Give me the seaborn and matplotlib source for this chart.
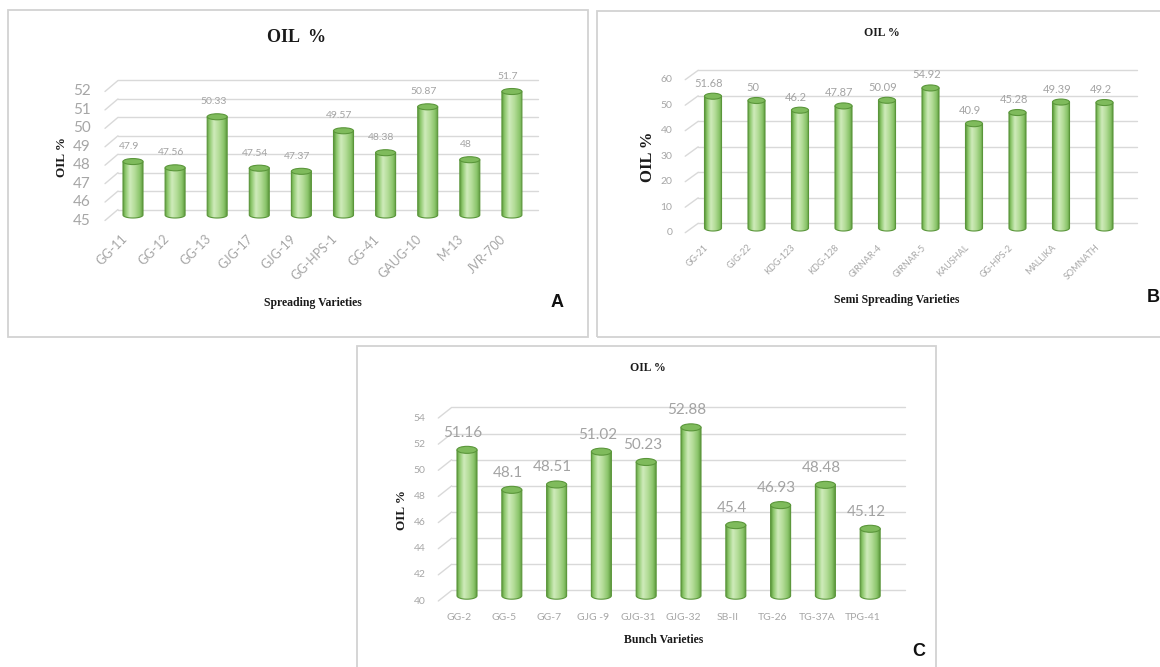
import numpy as np
import pandas as pd
import matplotlib
matplotlib.use("Agg")
import matplotlib.pyplot as plt
import seaborn as sns
from matplotlib.transforms import offset_copy
from matplotlib.patches import Ellipse, Rectangle, PathPatch
from matplotlib.path import Path
from matplotlib.colors import LinearSegmentedColormap

# ---------------- data ----------------
spreading_varieties = ["GG-11", "GG-12", "GG-13", "GJG-17", "GJG-19",
                       "GG-HPS-1", "GG-41", "GAUG-10", "M-13", "JVR-700"]
spreading_oil = [47.9, 47.56, 50.33, 47.54, 47.37, 49.57, 48.38, 50.87, 48, 51.7]
spreading_yticks = [45, 46, 47, 48, 49, 50, 51, 52]

semi_varieties = ["GG-21", "GJG-22", "KDG-123", "KDG-128", "GIRNAR-4",
                  "GIRNAR-5", "KAUSHAL", "GG-HPS-2", "MALLIKA", "SOMNATH"]
semi_oil = [51.68, 50, 46.2, 47.87, 50.09, 54.92, 40.9, 45.28, 49.39, 49.2]
semi_yticks = [0, 10, 20, 30, 40, 50, 60]

bunch_varieties = ["GG-2", "GG-5", "GG-7", "GJG -9", "GJG-31",
                   "GJG-32", "SB-II", "TG-26", "TG-37A", "TPG-41"]
bunch_oil = [51.16, 48.1, 48.51, 51.02, 50.23, 52.88, 45.4, 46.93, 48.48, 45.12]
bunch_yticks = [40, 42, 44, 46, 48, 50, 52, 54]

titles = ["OIL  %", "OIL %", "OIL %"]
ylabel_text = "OIL %"
xlabels = ["Spreading Varieties", "Semi Spreading Varieties", "Bunch Varieties"]
panel_letters = ["A", "B", "C"]

# ---------------- style ----------------
sns.set_theme(style="white")
plt.rcParams['font.family'] = ['Lato', 'DejaVu Sans']

W, H = 1160, 667
fig = plt.figure(figsize=(W / 100, H / 100), dpi=100)
fig.patch.set_facecolor('white')

GRID = '#d9d9d9'
TICK_C = '#a6a6a6'
VAL_C = '#a3a3a3'
EDGE = '#5a963a'
CAP = '#7fbb5c'
SERIF = ['Liberation Serif', 'DejaVu Serif']
SANS = ['Liberation Sans', 'DejaVu Sans']

cyl_cmap = LinearSegmentedColormap.from_list(
    'cyl', [(0.0, '#5f9b3f'), (0.12, '#8cc76b'), (0.35, '#cfebbb'),
            (0.6, '#b3dc97'), (0.85, '#8ac46a'), (1.0, '#5f9b3f')])
grad = np.linspace(0, 1, 256).reshape(1, -1)


def fx(x):
    return x / W


def fy(y):
    return 1 - y / H


# panel frames
for (l, t, r, b) in [(8, 10, 588, 337), (597, 11, 1168, 337), (357, 346, 936, 675)]:
    fig.add_artist(Rectangle((fx(l), fy(b)), (r - l) / W, (b - t) / H,
                             transform=fig.transFigure, fill=False,
                             edgecolor='#d2d2d2', lw=1.3))


def panel(names, vals, yticks, c0, step, base, ppu, ylim, xl_px, xr_px,
          half, bar_px, cap_px, ytick_fs, ytick_pad, val_fs, val_off,
          xt_fs, xt_rot, xt_off):
    y0, y1 = ylim
    top_px = base - (y1 - y0) * ppu
    ax = fig.add_axes([xl_px / W, 1 - base / H, (xr_px - xl_px) / W, (base - top_px) / H])
    df = pd.DataFrame({'variety': names, 'oil': vals})
    sns.barplot(data=df, x='variety', y='oil', ax=ax, color='#a9d68c',
                saturation=1, width=bar_px / step, edgecolor='none', errorbar=None)
    xlim = ((xl_px - c0) / step, (xr_px - c0) / step)
    hx, hy = half
    hh = cap_px / 2 / ppu

    ytr = ax.get_yaxis_transform()
    back = offset_copy(ytr, fig=fig, x=hx, y=hy, units='dots')
    front = offset_copy(ytr, fig=fig, x=-hx, y=-hy, units='dots')
    lab_tr = offset_copy(ytr, fig=fig, x=-hx - ytick_pad, y=-hy, units='dots')
    for v in yticks:
        ax.plot([0, 1], [v, v], transform=back, color=GRID, lw=1.0, zorder=1, clip_on=False)
        ax.annotate('', xy=(0, v), xycoords=back, xytext=(0, v), textcoords=front,
                    arrowprops=dict(arrowstyle='-', color=GRID, lw=1.0, shrinkA=0, shrinkB=0),
                    annotation_clip=False)
        ax.text(0, v, f'{v}', transform=lab_tr, ha='right', va='center',
                fontsize=ytick_fs, color=TICK_C)

    xt_tr = offset_copy(ax.transData, fig=fig, x=xt_off[0], y=xt_off[1], units='dots')
    for i, p in enumerate(list(ax.patches)):
        x0 = p.get_x()
        w = p.get_width()
        top = p.get_y() + p.get_height()
        xc = x0 + w / 2
        p.set_visible(False)
        t = np.linspace(np.pi, 2 * np.pi, 40)
        arc_x = xc + (w / 2) * np.cos(t)
        arc_y = y0 + hh * np.sin(t)
        verts = [(x0, top)] + list(zip(arc_x, arc_y)) + [(x0 + w, top), (x0, top)]
        codes = [Path.MOVETO] + [Path.LINETO] * (len(verts) - 2) + [Path.CLOSEPOLY]
        body = PathPatch(Path(verts, codes), facecolor='none', edgecolor=EDGE,
                         lw=0.8, zorder=4, clip_on=False)
        ax.add_patch(body)
        im = ax.imshow(grad, extent=[x0, x0 + w, y0 - hh, top], aspect='auto',
                       cmap=cyl_cmap, zorder=3, interpolation='bilinear')
        im.set_clip_path(body)
        im.set_clip_box(fig.bbox)
        ax.add_patch(Ellipse((xc, top), w, 2 * hh, facecolor=CAP, edgecolor=EDGE,
                             lw=0.8, zorder=5, clip_on=False))
        ax.annotate(f'{vals[i]:g}', xy=(xc, top), xytext=(-4, val_off),
                    textcoords='offset pixels', ha='center', va='center',
                    fontsize=val_fs, color=VAL_C, annotation_clip=False)
        if xt_rot:
            ax.text(xc, y0, names[i], transform=xt_tr, rotation=xt_rot,
                    rotation_mode='anchor', ha='right', va='center',
                    fontsize=xt_fs, color=TICK_C)
        else:
            ax.text(xc, y0, names[i], transform=xt_tr, ha='center', va='center',
                    fontsize=xt_fs, color=TICK_C)

    ax.set_xlim(*xlim)
    ax.set_ylim(y0, y1)
    ax.axis('off')
    return ax


# Panel A
panel(spreading_varieties, spreading_oil, spreading_yticks,
      c0=133, step=42.1, base=215, ppu=18.43, ylim=(45, 52.9),
      xl_px=111.5, xr_px=531.5, half=(6.5, 5.5), bar_px=20, cap_px=6,
      ytick_fs=11, ytick_pad=14, val_fs=7.5, val_off=15,
      xt_fs=9, xt_rot=45, xt_off=(-8, -22))

# Panel B
panel(semi_varieties, semi_oil, semi_yticks,
      c0=713, step=43.5, base=228, ppu=2.55, ylim=(0, 62.5),
      xl_px=691.7, xr_px=1130.5, half=(6.5, 4.7), bar_px=17, cap_px=6,
      ytick_fs=7.5, ytick_pad=13, val_fs=8, val_off=13,
      xt_fs=6.5, xt_rot=45, xt_off=(-6, -18))

# Panel C
panel(bunch_varieties, bunch_oil, bunch_yticks,
      c0=467, step=44.8, base=595.7, ppu=13.07, ylim=(40, 55),
      xl_px=445, xr_px=898, half=(6.7, 5.3), bar_px=20, cap_px=7,
      ytick_fs=7.5, ytick_pad=13, val_fs=11, val_off=17,
      xt_fs=7.5, xt_rot=0, xt_off=(-8, -22))

# titles, axis labels, panel letters
for (x, y, s, fs) in [(297, 38, titles[0], 13), (882, 33, titles[1], 8.5), (648, 368, titles[2], 8.5)]:
    fig.text(fx(x), fy(y), s, ha='center', va='center', fontsize=fs,
             fontweight='bold', family=SERIF, color='#1a1a1a')
for (x, y, fs) in [(62, 157, 9.5), (648, 157, 12), (402, 510, 9.5)]:
    fig.text(fx(x), fy(y), ylabel_text, ha='center', va='center', rotation=90,
             fontsize=fs, fontweight='bold', family=SERIF, color='#1a1a1a')
for (x, y, s) in [(313, 303, xlabels[0]), (897, 300, xlabels[1]), (664, 640, xlabels[2])]:
    fig.text(fx(x), fy(y), s, ha='center', va='center', fontsize=8.5,
             fontweight='bold', family=SERIF, color='#1a1a1a')
for (x, y, s) in [(557, 303, panel_letters[0]), (1153, 298, panel_letters[1]), (919, 652, panel_letters[2])]:
    fig.text(fx(x), fy(y), s, ha='center', va='center', fontsize=13,
             fontweight='bold', family=SANS, color='#111111')

fig.savefig('out.png', dpi=100, facecolor='white')
